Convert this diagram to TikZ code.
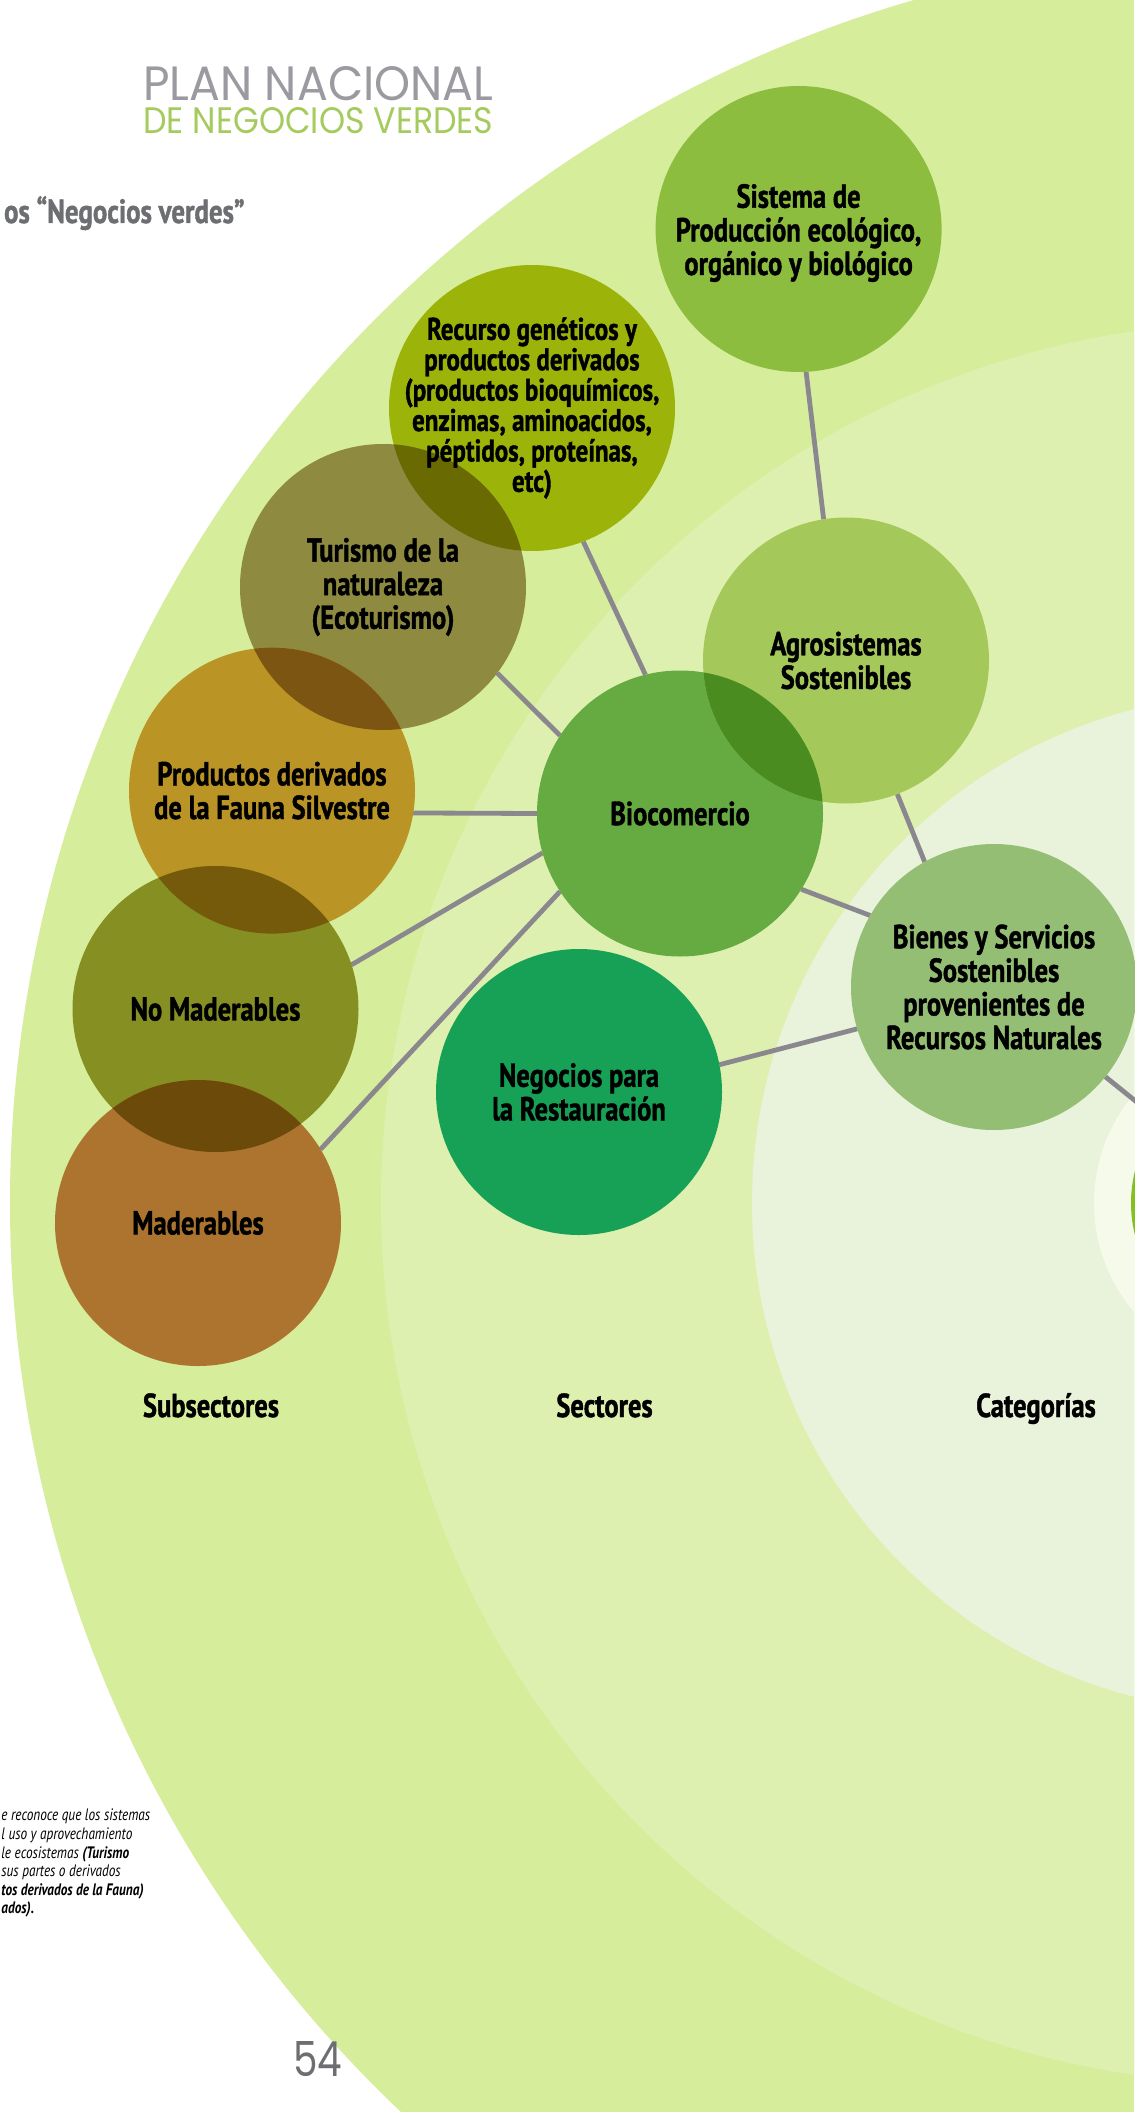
\documentclass[tikz,border=0pt]{standalone}
\usepackage{fontspec}
\usepackage{graphicx}
\newfontfamily\condfont{PT Sans}[FakeStretch=0.8, BoldFeatures={FakeBold=1.2}]
\newfontfamily\headfont{Poppins}
\definecolor{ringA}{HTML}{D6ED9B}
\definecolor{ringB}{HTML}{DEF0AF}
\definecolor{ringC}{HTML}{E9F2DA}
\definecolor{ringD}{HTML}{F6FAEA}
\definecolor{cCore}{HTML}{83C11F}
\definecolor{cSis}{HTML}{8DBD3E}
\definecolor{cRec}{HTML}{9CB30A}
\definecolor{cTur}{HTML}{8E8A40}
\definecolor{cProd}{HTML}{BB9426}
\definecolor{cNoMad}{HTML}{858F22}
\definecolor{cMad}{HTML}{AD742F}
\definecolor{cBio}{HTML}{66AA42}
\definecolor{cAgro}{HTML}{A5C85B}
\definecolor{cRest}{HTML}{16A157}
\definecolor{cBien}{HTML}{93BE74}
\definecolor{oRecTur}{HTML}{6A6A03}
\definecolor{oTurProd}{HTML}{7D5513}
\definecolor{oProdNo}{HTML}{745A0A}
\definecolor{oNoMad}{HTML}{6B4A0A}
\definecolor{oAgroBio}{HTML}{4A8C20}
\definecolor{linkgray}{HTML}{8A888E}
\definecolor{headgray}{HTML}{9B9AA0}
\definecolor{headgreen}{HTML}{A5CB5E}
\definecolor{textgray}{HTML}{6D6E71}
\pgfdeclarelayer{back}
\pgfdeclarelayer{links}
\pgfsetlayers{back,links,main}
\begin{document}
\begin{tikzpicture}[x=0.5pt,y=-0.5pt,
  bubble/.style={circle, minimum size=143pt, inner sep=0pt, outer sep=0pt},
  lbl/.style={font=\condfont\bfseries\fontsize{16.6}{16.8}\selectfont, align=center, text=black, inner sep=0pt},
  lblsmall/.style={font=\condfont\bfseries\fontsize{15.6}{15.2}\selectfont, align=center, text=black, inner sep=0pt},
  link/.style={draw=linkgray, line width=2.4pt},
  foot/.style={font=\condfont\itshape\fontsize{8.3}{9.3}\selectfont, anchor=base west, inner sep=0pt, text=black}]
\useasboundingbox (0,0) rectangle (1134,2112);
\coordinate (nv) at (1262,1203);
\begin{pgfonlayer}{back}
  \clip (0,0) rectangle (1134,2112);
  \fill[white] (0,0) rectangle (1134,2112);
  \fill[ringA] (nv) circle[radius=626pt];
  \fill[ringB] (nv) circle[radius=440.5pt];
  \fill[ringC] (nv) circle[radius=255pt];
  \fill[ringD] (nv) circle[radius=84pt];
\end{pgfonlayer}

% header
\node[anchor=south west, inner sep=0pt] (h1) at (143,101) {\resizebox{175pt}{17pt}{\color{headgray}\headfont PLAN NACIONAL}};
\node[anchor=south west, inner sep=0pt] (h2) at (143,134) {\resizebox{175pt}{13pt}{\color{headgreen}\headfont DE NEGOCIOS VERDES}};
\node[anchor=base east, inner sep=0pt, text=textgray, font=\condfont\bfseries\fontsize{16.8}{17}\selectfont] (sub) at (245,223) {os “Negocios verdes”};

% circles
\node[bubble, fill=cCore, minimum size=131pt] (core) at (nv) {};
\node[bubble, fill=cSis] (sis) at (798.6,229) {};
\node[bubble, fill=cRec] (rec) at (532,408) {};
\node[bubble, fill=cTur] (tur) at (383,587) {};
\node[bubble, fill=cProd] (prod) at (272,790.6) {};
\node[bubble, fill=cNoMad] (nomad) at (215.5,1009) {};
\node[bubble, fill=cMad] (mad) at (198,1223) {};
\node[bubble, fill=cBio] (bio) at (680,813.5) {};
\node[bubble, fill=cAgro] (agro) at (846,660.5) {};
\node[bubble, fill=cRest] (rest) at (579,1092) {};
\node[bubble, fill=cBien] (bien) at (994,987) {};

% overlaps
\begin{scope}\clip (tur.center) circle[radius=71.5pt]; \fill[oRecTur] (rec.center) circle[radius=71.5pt];\end{scope}
\begin{scope}\clip (tur.center) circle[radius=71.5pt]; \fill[oTurProd] (prod.center) circle[radius=71.5pt];\end{scope}
\begin{scope}\clip (prod.center) circle[radius=71.5pt]; \fill[oProdNo] (nomad.center) circle[radius=71.5pt];\end{scope}
\begin{scope}\clip (nomad.center) circle[radius=71.5pt]; \fill[oNoMad] (mad.center) circle[radius=71.5pt];\end{scope}
\begin{scope}\clip (agro.center) circle[radius=71.5pt]; \fill[oAgroBio] (bio.center) circle[radius=71.5pt];\end{scope}

% connectors
\begin{pgfonlayer}{links}
  \draw[link] (sis.-87) -- (agro.99);
  \draw[link] (rec.-69) -- (bio.104);
  \draw[link] (tur.-37.6) -- (bio.147);
  \draw[link] (prod.-9) -- (bio.180);
  \draw[link] (nomad.18) -- (bio.196.5);
  \draw[link] (mad.31) -- (bio.213);
  \draw[link] (agro.-69) -- (bien.119.5);
  \draw[link] (bio.-32) -- (bien.150);
  \draw[link] (rest.11.4) -- (bien.197.7);
  \draw[link] (bien) -- (nv);
\end{pgfonlayer}

% labels
\node[lbl] (sis-t) at ([yshift=-2pt]sis.center) {Sistema de\\Producción ecológico,\\orgánico y biológico};
\node[lblsmall] (rec-t) at (rec.center) {Recurso genéticos y\\productos derivados\\(productos bioquímicos,\\enzimas, aminoacidos,\\péptidos, proteínas,\\etc)};
\node[lbl] (tur-t) at (tur.center) {Turismo de la\\naturaleza\\(Ecoturismo)};
\node[lbl] (prod-t) at (prod.center) {Productos derivados\\de la Fauna Silvestre};
\node[lbl] (nomad-t) at (nomad.center) {No Maderables};
\node[lbl] (mad-t) at (mad.center) {Maderables};
\node[lbl] (bio-t) at (bio.center) {Biocomercio};
\node[lbl] (agro-t) at (agro.center) {Agrosistemas\\Sostenibles};
\node[lbl] (rest-t) at (rest.center) {Negocios para\\la Restauración};
\node[lbl] (bien-t) at (bien.center) {Bienes y Servicios\\Sostenibles\\provenientes de\\Recursos Naturales};

% column titles
\node[lbl, anchor=base] (col1) at (211,1417) {Subsectores};
\node[lbl, anchor=base] (col2) at (604.5,1417) {Sectores};
\node[lbl, anchor=base] (col3) at (1036,1417) {Categorías};

% footnote text
\node[foot] (f1) at (1,1820) {e reconoce que los sistemas};
\node[foot] (f2) at (1,1839) {l uso y aprovechamiento};
\node[foot] (f3) at (1,1858) {le ecosistemas \textbf{(Turismo}};
\node[foot] (f4) at (1,1876) {sus partes o derivados};
\node[foot] (f5) at (1,1895) {\textbf{tos derivados de la Fauna)}};
\node[foot] (f6) at (1,1913) {\textbf{ados).}};

% page number
\node[anchor=south west, inner sep=0pt] (pg) at (293,2077) {\resizebox{24.5pt}{17.5pt}{\color{textgray}\headfont 54}};
\end{tikzpicture}
\end{document}
